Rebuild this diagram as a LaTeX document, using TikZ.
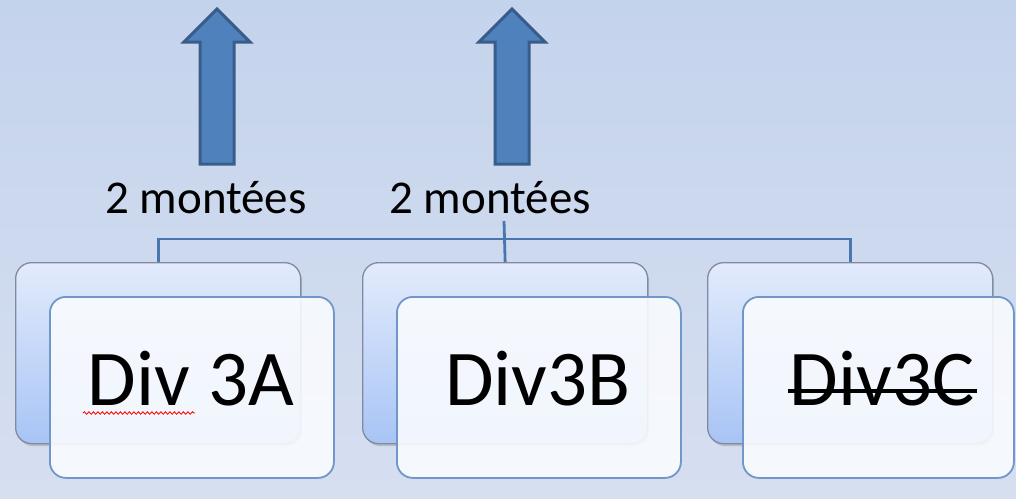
\documentclass[tikz,border=0pt]{standalone}
\usepackage{fontspec}
\setmainfont{Carlito}
\usetikzlibrary{shadows,decorations.pathmorphing}
\definecolor{bgtop}{RGB}{196,211,236}
\definecolor{bgbot}{RGB}{214,223,240}
\definecolor{backtop}{RGB}{226,235,252}
\definecolor{backbot}{RGB}{168,196,245}
\definecolor{backedge}{RGB}{128,138,160}
\definecolor{frontfill}{RGB}{249,251,254}
\definecolor{frontedge}{RGB}{112,151,200}
\definecolor{connc}{RGB}{74,118,176}
\definecolor{arrfill}{RGB}{79,129,189}
\definecolor{arredge}{RGB}{56,93,138}
\tikzset{
  backbox/.style={draw=backedge, line width=1.3pt, rounded corners=16pt,
    top color=backtop, bottom color=backbot, minimum width=285pt,
    minimum height=181pt, anchor=north west, inner sep=0pt,
    drop shadow={shadow xshift=1.5pt, shadow yshift=-2.5pt, opacity=0.35}},
  frontbox/.style={draw=frontedge, line width=1.8pt, rounded corners=16pt,
    fill=frontfill, fill opacity=0.9, draw opacity=1, minimum width=284pt,
    minimum height=181pt, anchor=north west, inner sep=0pt},
  divtext/.style={anchor=base, font=\fontsize{79}{90}\selectfont, inner sep=0pt},
  labeltext/.style={anchor=base, font=\fontsize{47}{56}\selectfont, inner sep=0pt},
  conn/.style={draw=connc, line width=2.8pt},
  bigarrow/.style={fill=arrfill, draw=arredge, line width=3pt, line join=miter}
}
\begin{document}
\begin{tikzpicture}[x=1pt,y=-1pt]
\shade[top color=bgtop, bottom color=bgbot] (0,0) rectangle (1016,498);
\useasboundingbox (0,0) rectangle (1016,498);

% arrows
\path[bigarrow] (217,9) -- (250,42) -- (234,42) -- (234,164) -- (200,164) -- (200,42) -- (184,42) -- cycle;
\path[bigarrow] (512,9) -- (545,42) -- (529,42) -- (529,164) -- (495,164) -- (495,42) -- (479,42) -- cycle;

% labels
\node[labeltext] (labA) at (206,213) {2 montées};
\node[labeltext] (labB) at (490,213) {2 montées};

% back boxes
\node[backbox] (backA) at (15,262) {};
\node[backbox] (backB) at (362,262) {};
\node[backbox] (backC) at (707,262) {};

% connectors
\coordinate (hub) at (504,239);
\coordinate (stem) at (504,221);
\draw[conn] (backA.north) |- (hub) -| (backC.north);
\draw[conn] (backB.north) -- (stem);

% front boxes
\node[frontbox] (frontA) at (49,296) {};
\node[frontbox] (frontB) at (396,296) {};
\node[frontbox, minimum width=271pt] (frontC) at (742,296) {};

% texts
\node[divtext] (tA) at (191,405) {Div 3A};
\node[divtext] (tB) at (538,405) {Div3B};
\node[divtext] (tC) at (882,405) {Div3C};
\draw[line width=3.5pt] ([xshift=-2pt]tC.west |- 0,391) -- ([xshift=2pt]tC.east |- 0,391);
\draw[red, line width=0.8pt, decorate, decoration={snake, amplitude=1.3pt, segment length=4.5pt}] (83,413) -- (195,413);
\end{tikzpicture}
\end{document}
